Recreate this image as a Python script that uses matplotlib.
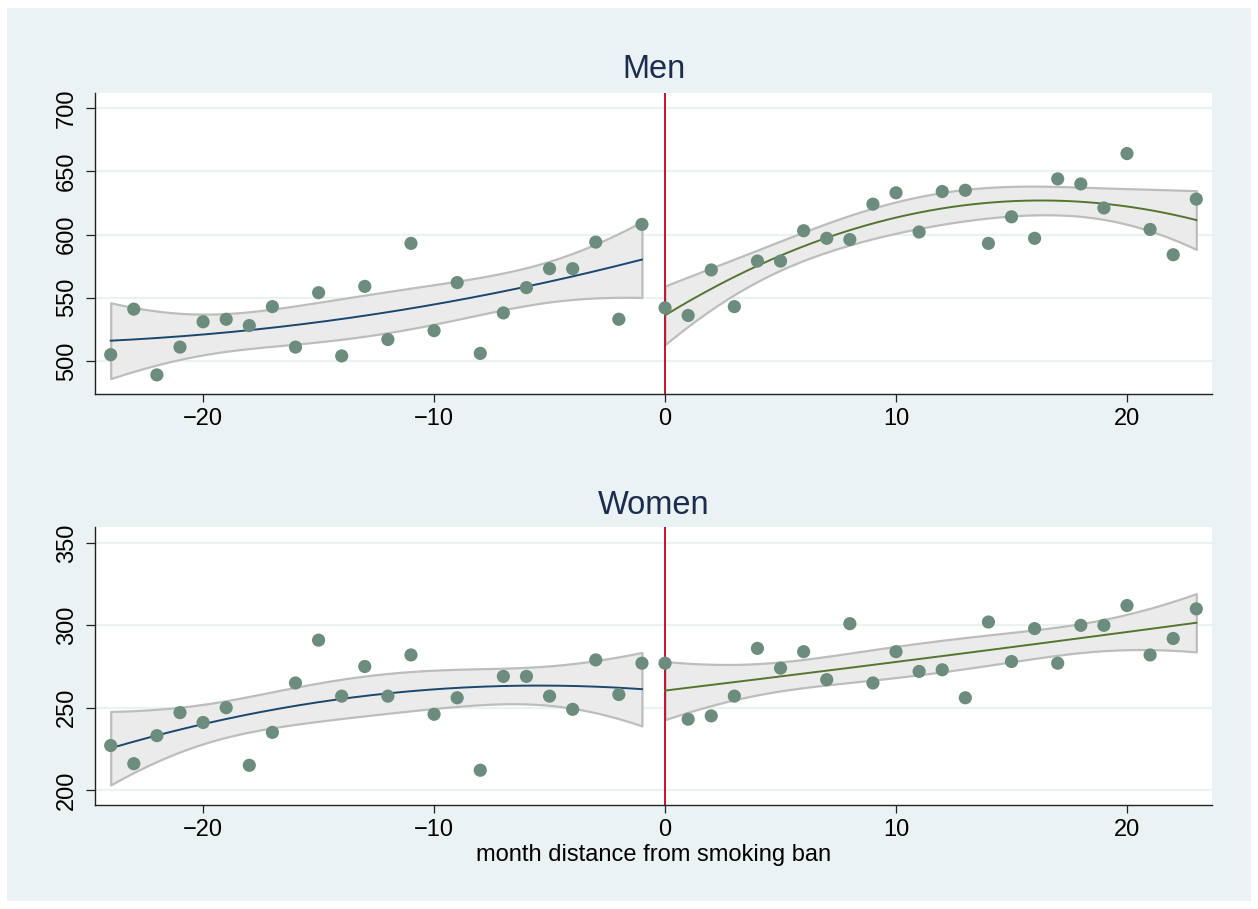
import numpy as np
import matplotlib
matplotlib.use("Agg")
import matplotlib.pyplot as plt
from matplotlib.patches import Rectangle

plt.rcParams['font.family'] = ['Liberation Sans', 'DejaVu Sans']

# ---------------- data ----------------
x_pre = list(range(-24, 0))
x_post = list(range(0, 24))

men_pre = [505, 541, 489, 511, 531, 533, 528, 543, 511, 554, 504, 559,
           517, 593, 524, 562, 506, 538, 558, 573, 573, 594, 533, 608]
men_post = [542, 536, 572, 543, 579, 579, 603, 597, 596, 624, 633, 602,
            634, 635, 593, 614, 597, 644, 640, 621, 664, 604, 584, 628]
women_pre = [227, 216, 233, 247, 241, 250, 215, 235, 265, 291, 257, 275,
             257, 282, 246, 256, 212, 269, 269, 257, 249, 279, 258, 277]
women_post = [277, 243, 245, 257, 286, 274, 284, 267, 301, 265, 284, 272,
              273, 256, 302, 278, 298, 277, 300, 300, 312, 282, 292, 310]

panel_titles = ["Men", "Women"]
men_yticks = [500, 550, 600, 650, 700]
women_yticks = [200, 250, 300, 350]
xticks = [-20, -10, 0, 10, 20]
xlabel = "month distance from smoking ban"

# ---------------- styling ----------------
BG = "#EAF2F3"
MARKER = "#6c8c7e"
PRE_LINE = "#1a476f"
POST_LINE = "#55752f"
CI_FILL = "#ebebeb"
CI_EDGE = "#bdbdbd"
VLINE = "#c8102e"
TITLE_C = "#1c2b50"

W, H = 1258, 909
fig = plt.figure(figsize=(W / 100, H / 100), dpi=100)
fig.patch.set_facecolor("white")
fig.patches.append(Rectangle((7 / W, 8 / H), 1 - 14 / W, 1 - 16 / H,
                             transform=fig.transFigure, facecolor=BG,
                             edgecolor="none", zorder=-10))


def qfitci(x, y, n=200, t=2.0796):
    x = np.asarray(x, float)
    y = np.asarray(y, float)
    X = np.column_stack([np.ones_like(x), x, x ** 2])
    beta, *_ = np.linalg.lstsq(X, y, rcond=None)
    resid = y - X @ beta
    s2 = resid @ resid / (len(x) - 3)
    XtXi = np.linalg.inv(X.T @ X)
    xg = np.linspace(x.min(), x.max(), n)
    G = np.column_stack([np.ones_like(xg), xg, xg ** 2])
    fit = G @ beta
    se = np.sqrt(s2 * np.einsum('ij,jk,ik->i', G, XtXi, G))
    return xg, fit, fit - t * se, fit + t * se


def panel(ax, pre, post, ylim, yticks, title, title_y):
    ax.set_facecolor("white")
    for yt in yticks:
        ax.axhline(yt, color=BG, lw=1.6, zorder=0)
    for xs, ys, lc in ((x_pre, pre, PRE_LINE), (x_post, post, POST_LINE)):
        xg, fit, lo, hi = qfitci(xs, ys)
        ax.fill_between(xg, lo, hi, facecolor=CI_FILL, edgecolor=CI_EDGE,
                        lw=1.6, zorder=1)
        ax.plot(xg, fit, color=lc, lw=1.4, zorder=3)
    ax.scatter(x_pre + x_post, pre + post, s=90, color=MARKER,
               edgecolors="none", zorder=4)
    ax.axvline(0, color=VLINE, lw=1.4, zorder=2)
    ax.set_xlim(-24.68, 23.68)
    ax.set_ylim(*ylim)
    ax.set_yticks(yticks)
    ax.set_xticks(xticks)
    ax.set_xticklabels(["\u2212%d" % -v if v < 0 else "%d" % v for v in xticks])
    for s in ("top", "right"):
        ax.spines[s].set_visible(False)
    for s in ("left", "bottom"):
        ax.spines[s].set_color("#222222")
        ax.spines[s].set_linewidth(1.0)
    ax.tick_params(axis="x", length=6, width=0.9, pad=4, labelsize=17,
                   color="#222222")
    ax.tick_params(axis="y", length=6.5, width=0.9, pad=6, labelsize=17,
                   color="#222222")
    for lab in ax.get_yticklabels():
        lab.set_rotation(90)
        lab.set_va("center")
    fig.text(0.5195, title_y, title, ha="center", va="center",
             fontsize=23.5, color=TITLE_C)


ax1 = fig.add_axes([95 / W, 1 - 394 / H, (1212 - 95) / W, (394 - 93) / H])
panel(ax1, men_pre, men_post, (473.9, 711.9), men_yticks, panel_titles[0],
      1 - 70 / H)
ax2 = fig.add_axes([95 / W, 1 - 805 / H, (1212 - 95) / W, (805 - 527) / H])
panel(ax2, women_pre, women_post, (190.9, 359.7), women_yticks,
      panel_titles[1], 1 - 505 / H)
fig.text(0.5195, 1 - 855 / H, xlabel, ha="center", va="center", fontsize=17,
         color="black")

fig.savefig("out.png", dpi=100, facecolor=fig.get_facecolor())
